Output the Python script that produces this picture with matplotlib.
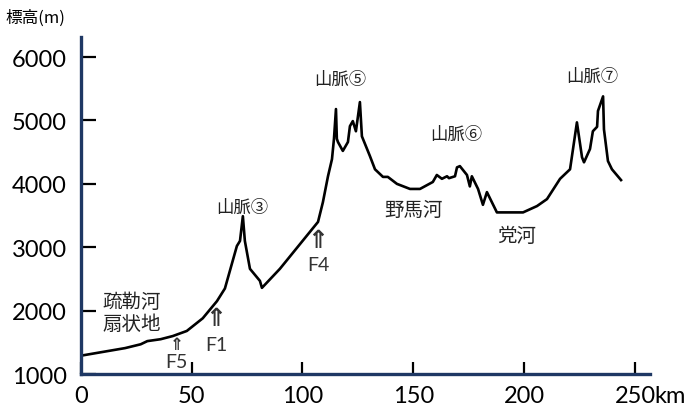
import matplotlib
matplotlib.use('Agg')
import matplotlib.pyplot as plt

# Profil d'altitude (distance en km, altitude en m)
dist_km = [0, 10, 20, 27, 30, 36, 41.5, 47.8, 55, 61.4, 65, 70.4, 71.8, 73.1, 74,
           76.3, 80.8, 81.7, 89.8, 107, 109.2, 111.5, 113.3, 114.2, 115.1, 115.5,
           116, 118.2, 120.5, 121.4, 122.7, 124.1, 125.9, 126.8, 130.4, 132.7,
           136.3, 138.5, 142.6, 148.5, 153, 158.8, 160.6, 162.9, 165.2, 166.1,
           168.8, 169.7, 171, 174.2, 175.5, 176.4, 179.2, 181.4, 183.2, 187.7,
           199.5, 205.8, 210.3, 216.2, 220.7, 223.8, 226.1, 227, 229.7, 231,
           232.9, 233.3, 235.6, 236, 237.8, 239.6, 243.7]
elev_m = [1290, 1350, 1410, 1470, 1520, 1550, 1600, 1680, 1880, 2150, 2350, 3020,
          3100, 3490, 3100, 2660, 2470, 2360, 2660, 3400, 3710, 4120, 4390, 4710,
          5180, 4710, 4660, 4520, 4660, 4910, 4990, 4830, 5290, 4750, 4440, 4230,
          4110, 4110, 4000, 3920, 3920, 4030, 4140, 4080, 4120, 4090, 4120, 4260,
          4280, 4140, 3960, 4120, 3920, 3670, 3870, 3550, 3550, 3650, 3760, 4080,
          4230, 4970, 4420, 4340, 4550, 4830, 4900, 5150, 5380, 4860, 4360, 4230,
          4060]

xticks = [0, 50, 100, 150, 200, 250]
yticks = [1000, 2000, 3000, 4000, 5000, 6000]

# etiquettes : (texte, x, y, taille)
etiquettes = [
    ('山脈③', 72.9, 3630, 12.5),
    ('山脈⑤', 117, 5650, 12.5),
    ('山脈⑥', 169.2, 4780, 12.5),
    ('山脈⑦', 230.6, 5700, 12.5),
    ('野馬河', 150, 3600, 14),
    ('党河', 196.8, 3180, 14),
    ('疏勒河', 22.8, 2150, 14),
    ('扇状地', 22.8, 1790, 14),
]

# failles : (nom, x, y_fleche, y_texte, taille fleche)
failles = [
    ('F5', 43.2, 1470, 1200, 12),
    ('F1', 61, 1880, 1470, 18),
    ('F4', 107, 3110, 2730, 18),
]

plt.rcParams['font.family'] = ['Noto Sans CJK JP', 'DejaVu Sans']

fig = plt.figure(figsize=(6.85, 4.14), dpi=100)
ax = fig.add_axes([0.118, 0.094, 0.831, 0.814])

ax.plot(dist_km, elev_m, color='black', linewidth=1.9)

ax.set_xlim(0, 256.8)
ax.set_ylim(1000, 6315)

for s in ['top', 'right']:
    ax.spines[s].set_visible(False)
for s in ['left', 'bottom']:
    ax.spines[s].set_color('#1f3864')
    ax.spines[s].set_linewidth(2.4)

ax.set_xticks(xticks)
ax.set_xticklabels([str(v) for v in xticks], fontfamily='Lato', fontsize=17)
ax.set_yticks(yticks)
ax.set_yticklabels([str(v) for v in yticks], fontfamily='Lato', fontsize=17)
ax.tick_params(axis='y', direction='in', length=11, width=1.6, color='black', pad=10)
ax.tick_params(axis='x', direction='in', length=9, width=1.6, color='black', pad=8)

# "km" apres 250
ax.annotate('km', xy=(250, 1000), xycoords='data', xytext=(14, -8),
            textcoords='offset points', ha='left', va='top',
            fontfamily='Lato', fontsize=17, annotation_clip=False)

for txt, x, y, fs in etiquettes:
    ax.text(x, y, txt, ha='center', va='center', fontsize=fs, color='#222222')

for nom, x, yf, yt, fsf in failles:
    ax.text(x, yf, '⇑', ha='center', va='center', fontsize=fsf,
            fontfamily='DejaVu Sans', fontweight='bold', color='#333333')
    ax.text(x, yt, nom, ha='center', va='center', fontsize=14,
            fontfamily='Lato', color='#333333')

fig.text(0.008, 0.955, '標高(m)', ha='left', va='center', fontsize=12)

fig.savefig('out.png', dpi=100)
